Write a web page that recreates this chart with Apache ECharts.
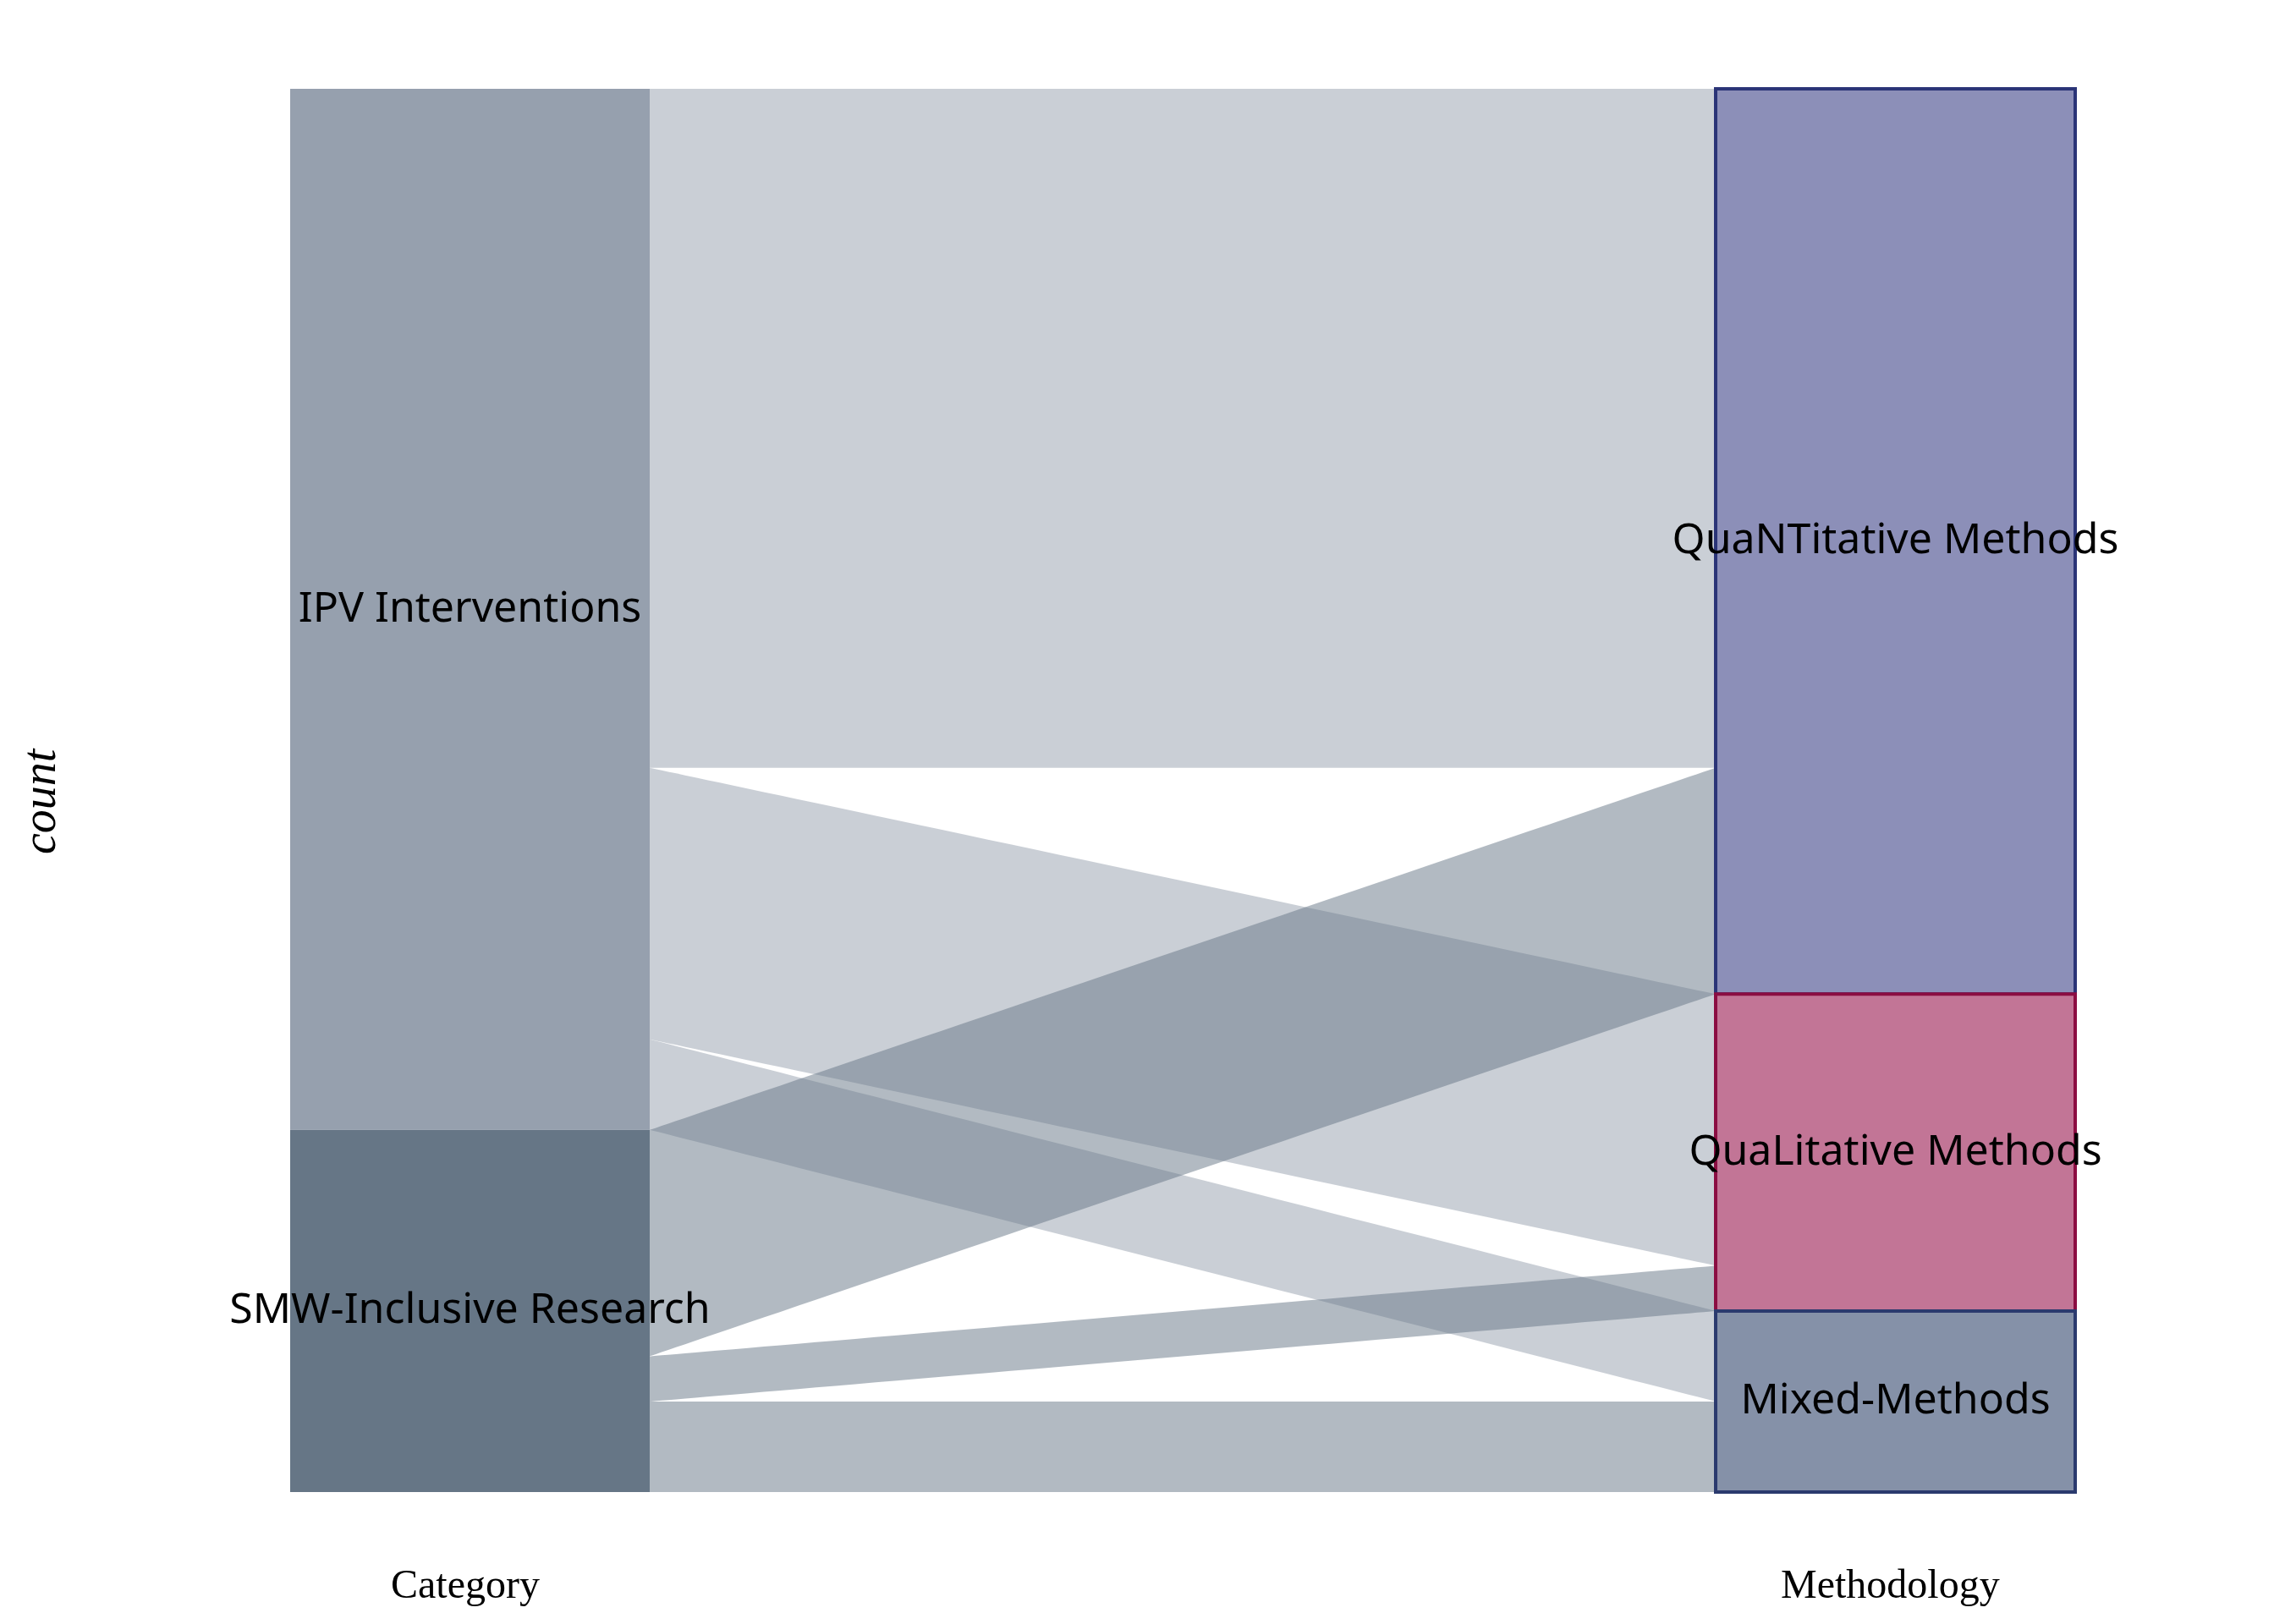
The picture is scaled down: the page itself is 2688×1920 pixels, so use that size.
<!DOCTYPE html>
<html><head><meta charset="utf-8">
<script src="https://cdn.jsdelivr.net/npm/echarts@6/dist/echarts.min.js"></script>
<style>html,body{margin:0;background:#fff}#c{width:2688px;height:1920px}</style>
</head><body><div id="c"></div>
<script>
// nodes
var categories = ['IPV Interventions', 'SMW-Inclusive Research'];
var methods = ['QuaNTitative Methods', 'QuaLitative Methods', 'Mixed-Methods'];
// counts per category -> method
var ipvCounts = [15, 6, 2];
var smwCounts = [5, 1, 2];

var catColors = ['#96a0ae', '#667686'];
var linkColors = ['rgba(150,160,174,0.5)', 'rgba(102,118,134,0.5)'];
var methodFill = ['#8c8fb8', '#c27596', '#8591a8'];
var methodBorder = ['#2b3477', '#8b0d42', '#2b3a6e'];

var nodes = [];
categories.forEach(function (c, i) {
  nodes.push({ name: c, depth: 0, itemStyle: { color: catColors[i], borderWidth: 0 } });
});
methods.forEach(function (m, i) {
  nodes.push({ name: m, depth: 1, itemStyle: { color: methodFill[i], borderColor: methodBorder[i], borderWidth: 4 } });
});
var links = [];
[ipvCounts, smwCounts].forEach(function (arr, ci) {
  arr.forEach(function (v, mi) {
    links.push({ source: categories[ci], target: methods[mi], value: v,
      lineStyle: { color: linkColors[ci], opacity: 1, curveness: 0 } });
  });
});

var chart = echarts.init(document.getElementById('c'));
chart.setOption({
  backgroundColor: '#fff',
  animation: false,
  series: [{
    type: 'sankey',
    left: 343, right: 235, top: 105, bottom: 156,
    nodeWidth: 425, nodeGap: 0, layoutIterations: 0, draggable: false,
    data: nodes, links: links,
    label: { position: 'inside', color: '#000', fontSize: 50, fontFamily: 'Noto Sans' },
    lineStyle: { curveness: 0 },
    emphasis: { disabled: true }
  }],
  graphic: [
    { type: 'text', left: 462, top: 1852, style: { text: 'Category', font: '48px "Liberation Serif"', fill: '#000' } },
    { type: 'text', left: 2105, top: 1852, style: { text: 'Methodology', font: '48px "Liberation Serif"', fill: '#000' } },
    { type: 'text', x: 22, y: 1010, rotation: Math.PI / 2, style: { text: 'count', font: 'italic 56px "Liberation Serif"', fill: '#000' } }
  ]
});
</script></body></html>
